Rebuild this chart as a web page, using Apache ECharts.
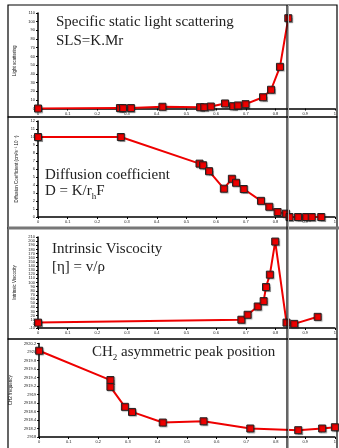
<!DOCTYPE html>
<html>
<head>
<meta charset="utf-8">
<script src="https://cdn.jsdelivr.net/npm/echarts@6/dist/echarts.min.js"></script>
<style>
  html, body { margin: 0; padding: 0; background: #fff; }
  #chart { width: 339px; height: 448px; }
</style>
</head>
<body>
<div id="chart"></div>
<script>
// ===== data =====
const slsX = [0, 0.276, 0.286, 0.313, 0.419, 0.546, 0.560, 0.582, 0.630, 0.657, 0.673, 0.699, 0.758, 0.785, 0.815, 0.843]
const slsY = [0, 0.5, 0.5, 0.5, 2.0, 1.5, 1.5, 2.3, 5.8, 2.7, 3.5, 5.0, 13, 21.6, 48, 104]

const diffX = [0, 0.279, 0.544, 0.556, 0.576, 0.626, 0.653, 0.667, 0.693, 0.751, 0.779, 0.807, 0.835, 0.847, 0.876, 0.903, 0.922, 0.954]
const diffY = [10, 10, 6.67, 6.47, 5.73, 3.54, 4.78, 4.28, 3.5, 2.02, 1.28, 0.62, 0.42, 0, 0, 0, 0, 0]

const viscX = [0, 0.685, 0.706, 0.740, 0.760, 0.768, 0.781, 0.799, 0.837, 0.863, 0.942]
const viscY = [3, 10, 22, 42, 55, 89, 119, 199, 3, 0, 17]

const ch2X = [0, 0.241, 0.241, 0.290, 0.314, 0.418, 0.556, 0.714, 0.876, 0.957, 1.0]
const ch2Y = [2920.03, 2919.34, 2919.18, 2918.71, 2918.59, 2918.34, 2918.37, 2918.20, 2918.16, 2918.20, 2918.23]

const vLineX = 287   // vertical marker line (px)

// ===== panels =====
const panels = [
  { top: 13,  height: 95.5, min: 0,    max: 110,    interval: 10,  name: 'Light scattering', xs: slsX, ys: slsY, dec: 0 },
  { top: 121, height: 96,   min: 0,    max: 12,     interval: 1,   name: 'Diffusion Coefficient (cm\u00B2s\u207B\u00B9 10\u207B\u2077)', xs: diffX, ys: diffY, dec: 0 },
  { top: 237, height: 91,   min: -10,  max: 210,    interval: 10,  name: 'Intrinsic Viscocity', xs: viscX, ys: viscY, dec: 0 },
  { top: 343.5, height: 93.5, min: 2918, max: 2920.2, interval: 0.2, name: 'CH2 frequency', xs: ch2X, ys: ch2Y, dec: 1 },
]

const RED = '#ee0000'
const small = { fontSize: 4, color: '#222', fontFamily: 'Arial' }

const grid = [], xAxis = [], yAxis = [], series = []
panels.forEach((p, i) => {
  grid.push({ left: 38, width: 297, top: p.top, height: p.height })
  xAxis.push({
    type: 'value', gridIndex: i, min: 0, max: 1, interval: 0.1,
    axisLine: { onZero: false, lineStyle: { color: '#000', width: 1.5 } },
    axisTick: { length: 2, lineStyle: { color: '#000' } },
    axisLabel: Object.assign({ margin: 3, formatter: v => (v === 0 || v === 1) ? String(v) : v.toFixed(1) }, small),
    splitLine: { show: false },
  })
  yAxis.push({
    type: 'value', gridIndex: i, min: p.min, max: p.max, interval: p.interval,
    name: p.name, nameLocation: 'middle', nameRotate: 90, nameGap: 16,
    nameTextStyle: { fontSize: 4.5, color: '#111', fontFamily: 'Arial' },
    axisLine: { show: true, lineStyle: { color: '#000', width: 1.5 } },
    axisTick: { show: true, length: 2, lineStyle: { color: '#000' } },
    axisLabel: Object.assign({ margin: 3, formatter: v => p.dec ? (+v.toFixed(1)).toString() : String(v) }, small),
    splitLine: { show: false },
  })
  series.push({
    type: 'line', xAxisIndex: i, yAxisIndex: i,
    data: p.xs.map((x, k) => [x, p.ys[k]]),
    symbol: 'rect', symbolSize: 7, showAllSymbol: true,
    lineStyle: { color: RED, width: 2 },
    itemStyle: {
      color: RED, borderColor: '#222', borderWidth: 1,
      shadowColor: 'rgba(0,0,0,0.3)', shadowBlur: 1, shadowOffsetX: 1, shadowOffsetY: 1,
    },
    animation: false, z: 3,
  })
})

// ===== frames, titles, marker line =====
const serif = 'Liberation Serif, Times New Roman, serif'
const titleFont = { fontSize: 15, fontFamily: serif, fill: '#222' }
const richStyle = {
  m: { fontSize: 15, lineHeight: 17, verticalAlign: 'top', fontFamily: serif },
  s: { fontSize: 9, lineHeight: 17, verticalAlign: 'bottom', fontFamily: serif },
}
const frames = [[5, 112], [117, 111], [228, 111], [339, 115]].map(([y, h]) => ({
  type: 'rect', shape: { x: 8, y, width: 329, height: h }, silent: true, z: 0,
  style: { fill: 'none', stroke: '#000', lineWidth: 1.2 },
}))

const graphic = frames.concat([
  { type: 'rect', shape: { x: 8, y: 226.5, width: 331, height: 3 }, style: { fill: '#777' }, z: 1, silent: true },
  { type: 'text', x: 56, y: 15, style: Object.assign({ text: 'Specific static light scattering' }, titleFont) },
  { type: 'text', x: 56, y: 34, style: Object.assign({ text: 'SLS=K.Mr' }, titleFont) },
  { type: 'text', x: 45, y: 168, style: Object.assign({ text: 'Diffusion coefficient' }, titleFont) },
  { type: 'text', x: 45, y: 184, style: { text: '{m|D = K/r}{s|h}{m|F}', fontFamily: serif, fill: '#222', rich: richStyle } },
  { type: 'text', x: 52, y: 242, style: Object.assign({ text: 'Intrinsic Viscocity' }, titleFont) },
  { type: 'text', x: 52, y: 260, style: Object.assign({ text: '[\u03B7] = v/\u03C1' }, titleFont) },
  { type: 'text', x: 92, y: 345, style: { text: '{m|CH}{s|2}{m| asymmetric peak position}', fontFamily: serif, fill: '#222', rich: richStyle } },
  { type: 'line', shape: { x1: vLineX + 1.5, y1: 5, x2: vLineX + 1.5, y2: 448 }, style: { stroke: '#aaa', lineWidth: 1 }, z: 10, silent: true },
  { type: 'line', shape: { x1: vLineX, y1: 5, x2: vLineX, y2: 448 }, style: { stroke: '#111', lineWidth: 1.3 }, z: 10, silent: true },
])

const chart = echarts.init(document.getElementById('chart'))
chart.setOption({
  animation: false,
  grid, xAxis, yAxis, series, graphic,
})
</script>
</body>
</html>
